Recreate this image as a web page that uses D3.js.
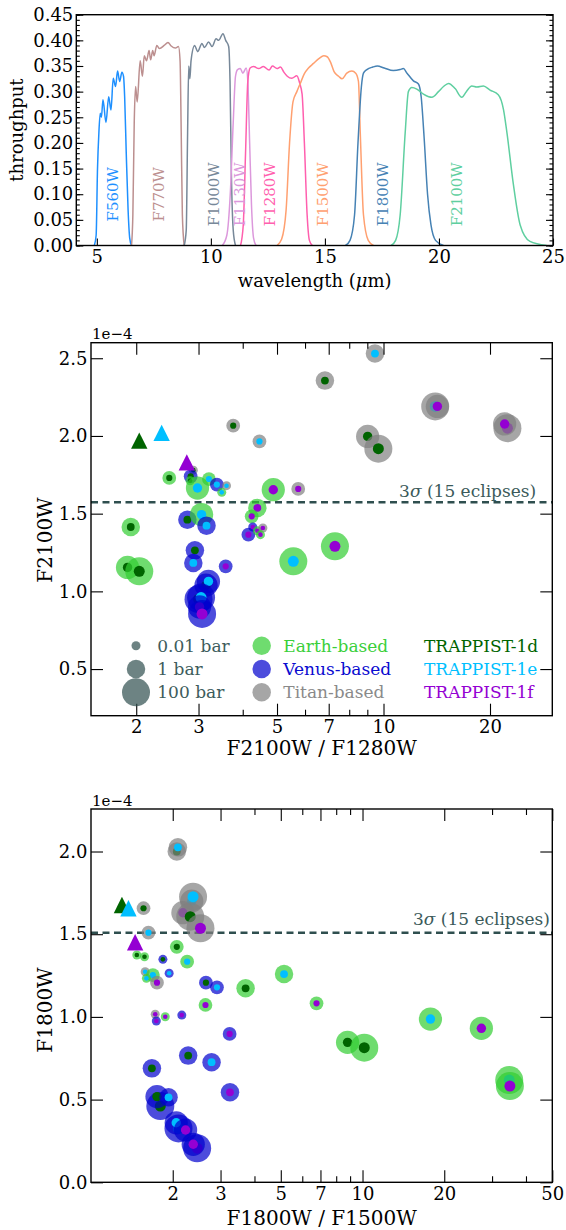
<!DOCTYPE html>
<html><head><meta charset="utf-8">
<script src="https://cdn.jsdelivr.net/npm/d3@7/dist/d3.min.js"></script>
<style>
html,body{margin:0;padding:0;background:#fff;}
svg{display:block;}
</style></head>
<body>
<svg id="chart" width="566" height="1230"></svg>
<script>
// ================= DATA =================
// --- Panel 1: MIRI filter throughputs [wavelength (um), throughput] ---
const filterNames = ["F560W","F770W","F1000W","F1130W","F1280W","F1500W","F1800W","F2100W"];
const f560w = [[4.89,0],[4.97,0.02],[5.03,0.15],[5.09,0.22],[5.15,0.258],[5.2,0.25],[5.27,0.284],[5.4,0.24],[5.52,0.29],[5.62,0.264],[5.72,0.326],[5.82,0.31],[5.91,0.34],[6.0,0.32],[6.1,0.338],[6.17,0.33],[6.22,0.29],[6.29,0.18],[6.37,0.07],[6.44,0.015],[6.52,0]];
const f770w = [[6.52,0],[6.58,0.06],[6.64,0.24],[6.7,0.31],[6.77,0.28],[6.9,0.36],[7.0,0.33],[7.08,0.37],[7.18,0.36],[7.29,0.38],[7.36,0.362],[7.45,0.38],[7.51,0.37],[7.63,0.39],[7.75,0.384],[7.95,0.39],[8.12,0.396],[8.26,0.389],[8.45,0.385],[8.58,0.388],[8.65,0.36],[8.7,0.22],[8.75,0.06],[8.83,0]];
const f1000w = [[8.83,0],[8.92,0.03],[8.98,0.22],[9.03,0.35],[9.08,0.325],[9.13,0.36],[9.29,0.39],[9.42,0.378],[9.61,0.394],[9.72,0.386],[9.9,0.397],[10.05,0.388],[10.23,0.403],[10.34,0.4],[10.53,0.413],[10.65,0.4],[10.78,0.388],[10.84,0.32],[10.9,0.14],[10.98,0.03],[11.08,0]];
const f1130w = [[10.5,0],[10.7,0.02],[10.85,0.1],[10.98,0.24],[11.08,0.33],[11.17,0.343],[11.29,0.345],[11.4,0.336],[11.55,0.346],[11.62,0.32],[11.7,0.2],[11.78,0.08],[11.87,0.015],[11.98,0]];
const f1280w = [[11.3,0],[11.42,0.04],[11.52,0.18],[11.62,0.32],[11.72,0.346],[11.87,0.349],[12.1,0.345],[12.3,0.349],[12.55,0.342],[12.7,0.35],[12.9,0.345],[13.05,0.348],[13.2,0.338],[13.35,0.33],[13.55,0.326],[13.77,0.331],[13.89,0.317],[14.0,0.295],[14.1,0.2],[14.22,0.06],[14.32,0.01],[14.45,0]];
const f1500w = [[12.9,0],[13.1,0.012],[13.3,0.07],[13.45,0.2],[13.6,0.28],[13.77,0.3],[13.92,0.316],[14.1,0.335],[14.28,0.346],[14.5,0.355],[14.75,0.365],[14.95,0.37],[15.1,0.368],[15.25,0.357],[15.4,0.339],[15.6,0.33],[15.75,0.325],[15.96,0.336],[16.18,0.34],[16.35,0.336],[16.47,0.32],[16.55,0.22],[16.69,0.06],[16.9,0.01],[17.13,0]];
const f1800w = [[15.9,0],[16.1,0.01],[16.3,0.06],[16.45,0.2],[16.6,0.31],[16.69,0.336],[16.84,0.343],[17.1,0.348],[17.3,0.35],[17.6,0.346],[18.0,0.341],[18.3,0.343],[18.44,0.345],[18.6,0.336],[18.88,0.321],[19.1,0.315],[19.22,0.29],[19.35,0.21],[19.5,0.1],[19.65,0.04],[19.85,0.01],[20.2,0]];
const f2100w = [[17.9,0],[18.1,0.01],[18.3,0.06],[18.52,0.22],[18.66,0.3],[18.81,0.308],[19.03,0.305],[19.32,0.295],[19.55,0.29],[19.69,0.289],[19.98,0.3],[20.2,0.31],[20.42,0.316],[20.71,0.306],[21.0,0.289],[21.2,0.3],[21.44,0.311],[21.66,0.309],[21.95,0.311],[22.24,0.303],[22.6,0.294],[22.83,0.265],[22.98,0.22],[23.26,0.12],[23.56,0.04],[23.99,0.008],[24.72,0]];
const filterCurves = [f560w,f770w,f1000w,f1130w,f1280w,f1500w,f1800w,f2100w];
const wavelengthTicks = [5,10,15,20,25];
const throughputTicks = [0,0.05,0.10,0.15,0.20,0.25,0.30,0.35,0.40,0.45];
const throughputMinor = d3.range(0,46).map(i=>i/100);

// --- Legend categories ---
const atmKeys = ["E","V","T"];
const atmLabels = ["Earth-based","Venus-based","Titan-based"];
const planetKeys = ["d","e","f"];
const planetLabels = ["TRAPPIST-1d","TRAPPIST-1e","TRAPPIST-1f"];
const pressureLegend = [0.01,1,100];
const pressureLegendLabels = ["0.01 bar","1 bar","100 bar"];

// --- Panel 2: F2100W/F1280W vs F2100W (flux in units of 1e-4) ---
const midAtm      = ["T","T","E","T","V","E","E","E","V","T","E","E","T","T","T","T","T","T","T","T","T","E","E","V","V","E","T","E","V","E","V","E","E","E","V","V","V","V","V","V","V","V","V","E","E"];
const midPlanet   = ["d","e","d","d","d","d","e","e","e","e","e","f","f","e","d","e","f","f","f","d","d","f","f","f","f","f","f","f","d","e","e","d","d","d","d","e","f","d","e","d","e","f","f","e","f"];
const midPressure = [0.1,0.1,0.1,0.01,0.1,0.01,10,0.1,0.1,0.01,0.01,10,0.1,1,1,100,10,100,10,10,100,1,0.1,0.1,0.01,0.01,0.01,0.01,1,10,1,1,10,100,1,1,0.1,10,10,100,100,10,100,100,100];
const midRatio    = [3.76,4.46,2.48,2.90,2.85,2.84,2.98,3.21,3.38,3.60,3.49,4.88,5.74,9.46,6.83,14.0,14.2,22.4,22.0,9.02,9.67,4.40,4.24,4.15,4.27,4.40,4.56,4.49,2.79,3.06,3.16,1.93,1.89,2.04,2.93,2.90,3.58,3.15,3.20,3.00,3.05,3.02,3.07,5.56,7.29];
const midFlux     = [2.066,1.965,1.73,1.78,1.74,1.712,1.665,1.723,1.687,1.68,1.637,1.654,1.659,2.53,2.356,2.19,2.19,2.05,2.077,1.997,1.918,1.537,1.483,1.365,1.414,1.39,1.408,1.365,1.461,1.494,1.423,1.414,1.154,1.129,1.264,1.183,1.161,1.04,1.064,0.95,0.96,0.90,0.855,1.193,1.29];
const midBarePlanet = ["d","e","f"];
const midBareRatio  = [2.04,2.36,2.78];
const midBareFlux   = [1.97,2.02,1.83];
const midThreshold  = 1.573;
const midXTicks = [2,3,5,7,10,20];
const midXMinor = [4,6,8,9];
const midYTicks = [0.5,1.0,1.5,2.0,2.5];

// --- Panel 3: F1800W/F1500W vs F1800W (flux in units of 1e-4) ---
const botAtm      = ["T","T","T","T","T","T","T","T","T","E","E","E","E","V","V","T","E","E","T","V","V","E","E","T","V","E","V","E","V","V","V","V","V","V","V","V","V","V","V","V","V","E","E","E","E","E","E","E"];
const botPlanet   = ["d","e","d","e","e","e","f","d","f","d","e","d","d","d","e","e","e","e","f","d","e","d","e","f","f","f","f","f","f","d","e","d","f","d","d","e","e","e","f","f","f","f","d","d","e","f","e","f"];
const botPressure = [0.1,0.1,1,1,10,100,10,100,100,0.1,0.1,0.01,0.01,0.01,0.01,0.01,0.1,0.01,0.1,0.1,0.1,1,1,0.01,0.01,0.01,0.01,0.1,0.1,1,1,1,1,100,10,1,100,10,100,10,10,0.1,10,100,10,10,100,100];
const botRatio    = [1.561,1.628,2.07,2.09,2.35,2.376,2.18,2.32,2.53,2.07,2.26,1.574,1.475,1.84,1.94,1.583,1.69,1.60,1.75,2.65,2.91,3.71,5.14,1.724,1.74,1.877,2.16,2.64,3.24,2.28,2.78,1.676,3.25,1.80,1.75,1.93,2.10,2.06,2.46,2.23,2.38,6.77,8.81,10.15,17.79,27.4,34.7,34.9];
const botFlux     = [1.657,1.509,2.0,2.025,1.70,1.727,1.63,1.606,1.536,1.424,1.334,1.364,1.374,1.348,1.264,1.273,1.253,1.233,1.207,1.207,1.179,1.173,1.259,1.016,0.975,1.001,1.011,1.072,0.897,0.766,0.726,0.689,0.544,0.461,0.518,0.514,0.326,0.36,0.206,0.316,0.23,1.082,0.846,0.814,0.987,0.931,0.618,0.582];
const botBarePlanet = ["d","e","f"];
const botBareRatio  = [1.30,1.374,1.454];
const botBareFlux   = [1.677,1.657,1.451];
const botThreshold  = 1.509;
const botXTicks = [2,3,5,7,10,20,50];
const botXMinor = [4,6,8,9,30,40];
const botYTicks = [0.0,0.5,1.0,1.5,2.0];

// ================= STYLE =================
const SERIF = "DejaVu Serif";
const TICK_FS = 18;
const filterColors = ["#1e90ff","#bc8f8f","#778899","#dc98dc","#ff5fae","#ffa070","#4682b4","#5fcfa0"];
const atmColor = {E:"#32cd32",V:"#0000cd",T:"#808080"};
const atmTextColor = {E:"#3acf3a",V:"#0a0ad0",T:"#8a8a8a"};
const planetColor = {d:"#006400",e:"#00bfff",f:"#9400d3"};
const slate = "#2f4f4f";

const svg = d3.select("#chart");

function styleAxis(g, size){
  g.select(".domain").remove();
  g.attr("font-family", SERIF).attr("font-size", size);
  g.selectAll(".tick line").attr("stroke","#000").attr("stroke-width",1.1);
  g.selectAll(".tick text").attr("fill","#000");
}
function frame(g,L){
  g.append("rect").attr("x",L.left).attr("y",L.top)
   .attr("width",L.right-L.left).attr("height",L.bottom-L.top)
   .attr("fill","none").attr("stroke","#000").attr("stroke-width",1.4);
}

// ================= PANEL 1 =================
(function(){
  const L = {left:76.3,right:553,top:14.7,bottom:245.5};
  const x = d3.scaleLinear().domain([4.1,25]).range([L.left,L.right]);
  const y = d3.scaleLinear().domain([0,0.45]).range([L.bottom,L.top]);
  const g = svg.append("g");
  g.append("clipPath").attr("id","clip1").append("rect")
    .attr("x",L.left).attr("y",L.top).attr("width",L.right-L.left).attr("height",L.bottom-L.top);
  const line = d3.line().x(d=>x(d[0])).y(d=>y(d[1])).curve(d3.curveMonotoneX);
  const cg = g.append("g").attr("clip-path","url(#clip1)");
  filterCurves.forEach((c,i)=>{
    cg.append("path").attr("d",line(c)).attr("fill","none")
      .attr("stroke",filterColors[i]).attr("stroke-width",1.5).attr("stroke-linejoin","round");
  });
  const labelWl = [5.71,7.69,10.1,11.27,12.58,14.92,17.55,20.76];
  filterNames.forEach((n,i)=>{
    g.append("text").text(n)
      .attr("transform",`translate(${x(labelWl[i])},${y(0.1)}) rotate(-90)`)
      .attr("text-anchor","middle").attr("dy","0.36em")
      .attr("font-family",SERIF).attr("font-size",15).attr("fill",filterColors[i]);
  });
  g.append("g").attr("transform",`translate(0,${L.bottom})`)
    .call(d3.axisBottom(x).tickValues(wavelengthTicks).tickFormat(d3.format("d")).tickSizeInner(-7).tickSizeOuter(0).tickPadding(5))
    .call(a=>styleAxis(a,TICK_FS));
  g.append("g").attr("transform",`translate(${L.left},0)`)
    .call(d3.axisLeft(y).tickValues(throughputMinor).tickFormat("").tickSizeInner(-3.5).tickSizeOuter(0))
    .call(a=>styleAxis(a,TICK_FS));
  g.append("g").attr("transform",`translate(${L.left},0)`)
    .call(d3.axisLeft(y).tickValues(throughputTicks).tickFormat(d3.format(".2f")).tickSizeInner(-7).tickSizeOuter(0).tickPadding(3))
    .call(a=>styleAxis(a,TICK_FS));
  g.append("g").attr("transform",`translate(${L.right},0)`)
    .call(d3.axisRight(y).tickValues(throughputMinor).tickFormat("").tickSizeInner(-3.5).tickSizeOuter(0))
    .call(a=>styleAxis(a,TICK_FS));
  g.append("g").attr("transform",`translate(${L.right},0)`)
    .call(d3.axisRight(y).tickValues(throughputTicks).tickFormat("").tickSizeInner(-7).tickSizeOuter(0))
    .call(a=>styleAxis(a,TICK_FS));
  frame(g,L);
  g.append("text").text("throughput")
    .attr("transform",`translate(23,${(L.top+L.bottom)/2}) rotate(-90)`)
    .attr("text-anchor","middle").attr("font-family",SERIF).attr("font-size",18).attr("fill","#000");
  const xl = g.append("text").attr("x",(L.left+L.right)/2).attr("y",287)
    .attr("text-anchor","middle").attr("font-family",SERIF).attr("font-size",18).attr("fill","#000");
  xl.append("tspan").text("wavelength (");
  xl.append("tspan").text("μ").attr("font-style","italic");
  xl.append("tspan").text("m)");
})();

// ================= SCATTER PANELS =================
const rOuter = d3.scaleLog().domain([0.01,100]).range([4.5,14]);
const rInner = d3.scaleLog().domain([0.01,100]).range([2.3,5.5]);

function scatterPanel(cfg){
  const L = cfg.L;
  const x = d3.scaleLog().domain(cfg.xDomain).range([L.left,L.right]);
  const y = d3.scaleLinear().domain(cfg.yDomain).range([L.bottom,L.top]);
  const g = svg.append("g");
  g.append("clipPath").attr("id",cfg.id).append("rect")
    .attr("x",L.left).attr("y",L.top).attr("width",L.right-L.left).attr("height",L.bottom-L.top);
  const pg = g.append("g").attr("clip-path",`url(#${cfg.id})`);
  pg.append("line").attr("x1",L.left).attr("x2",L.right)
    .attr("y1",y(cfg.threshold)).attr("y2",y(cfg.threshold))
    .attr("stroke",slate).attr("stroke-width",2.4).attr("stroke-dasharray","7,4.5");
  const tl = g.append("text").attr("x",x(cfg.thrLabelX)).attr("y",y(cfg.threshold)-cfg.thrLabelDy)
    .attr("text-anchor","end").attr("font-family",SERIF).attr("font-size",17).attr("fill","#3b5a5a");
  tl.append("tspan").text("3");
  tl.append("tspan").text("σ").attr("font-style","italic");
  tl.append("tspan").text(" (15 eclipses)");
  const pts = cfg.ratio.map((r,i)=>({r, f:cfg.flux[i], a:cfg.atm[i], p:cfg.planet[i], pr:cfg.pressure[i]}));
  pts.forEach(d=>{
    pg.append("circle").attr("cx",x(d.r)).attr("cy",y(d.f)).attr("r",rOuter(d.pr))
      .attr("fill",atmColor[d.a]).attr("fill-opacity",0.7);
    pg.append("circle").attr("cx",x(d.r)).attr("cy",y(d.f)).attr("r",rInner(d.pr))
      .attr("fill",planetColor[d.p]);
  });
  const tri = d3.path(); const h=8.2;
  tri.moveTo(0,-h); tri.lineTo(h,h); tri.lineTo(-h,h); tri.closePath();
  cfg.bareRatio.forEach((r,i)=>{
    pg.append("path").attr("d",tri.toString())
      .attr("transform",`translate(${x(r)},${y(cfg.bareFlux[i])})`)
      .attr("fill",planetColor[cfg.barePlanet[i]]);
  });
  g.append("g").attr("transform",`translate(0,${L.bottom})`)
    .call(d3.axisBottom(x).tickValues(cfg.xMinor).tickFormat("").tickSizeInner(-6).tickSizeOuter(0))
    .call(a=>styleAxis(a,TICK_FS));
  g.append("g").attr("transform",`translate(0,${L.bottom})`)
    .call(d3.axisBottom(x).tickValues(cfg.xTicks).tickFormat(d3.format("d")).tickSizeInner(-12).tickSizeOuter(0).tickPadding(5))
    .call(a=>styleAxis(a,TICK_FS));
  g.append("g").attr("transform",`translate(0,${L.top})`)
    .call(d3.axisTop(x).tickValues(cfg.xMinor).tickFormat("").tickSizeInner(-6).tickSizeOuter(0))
    .call(a=>styleAxis(a,TICK_FS));
  g.append("g").attr("transform",`translate(0,${L.top})`)
    .call(d3.axisTop(x).tickValues(cfg.xTicks).tickFormat("").tickSizeInner(-12).tickSizeOuter(0))
    .call(a=>styleAxis(a,TICK_FS));
  g.append("g").attr("transform",`translate(${L.left},0)`)
    .call(d3.axisLeft(y).tickValues(cfg.yTicks).tickFormat(d3.format(".1f")).tickSizeInner(-12).tickSizeOuter(0).tickPadding(3.5))
    .call(a=>styleAxis(a,TICK_FS));
  g.append("g").attr("transform",`translate(${L.right},0)`)
    .call(d3.axisRight(y).tickValues(cfg.yTicks).tickFormat("").tickSizeInner(-12).tickSizeOuter(0))
    .call(a=>styleAxis(a,TICK_FS));
  frame(g,L);
  g.append("text").text("1e\u22124").attr("x",L.left+1).attr("y",L.top-3.5)
    .attr("font-family",SERIF).attr("font-size",15).attr("fill","#000");
  g.append("text").text(cfg.xLabel).attr("x",(L.left+L.right)/2).attr("y",L.bottom+cfg.xLabelDy)
    .attr("text-anchor","middle").attr("font-family",SERIF).attr("font-size",20).attr("fill","#000");
  g.append("text").text(cfg.yLabel)
    .attr("transform",`translate(52,${cfg.yLabelY}) rotate(-90)`)
    .attr("text-anchor","middle").attr("font-family",SERIF).attr("font-size",20).attr("fill","#000");
  return g;
}

const midG = scatterPanel({
  id:"clip2", L:{left:91,right:552.3,top:342.7,bottom:715.7},
  xDomain:[1.49,30], yDomain:[0.2,2.6],
  ratio:midRatio, flux:midFlux, atm:midAtm, planet:midPlanet, pressure:midPressure,
  bareRatio:midBareRatio, bareFlux:midBareFlux, barePlanet:midBarePlanet,
  threshold:midThreshold, thrLabelX:27.0, thrLabelDy:5.5,
  xTicks:midXTicks, xMinor:midXMinor, yTicks:midYTicks,
  xLabel:"F2100W / F1280W", yLabel:"F2100W", xLabelDy:39, yLabelY:540
});

scatterPanel({
  id:"clip3", L:{left:91,right:552.3,top:809,bottom:1182.3},
  xDomain:[1,50], yDomain:[0,2.257],
  ratio:botRatio, flux:botFlux, atm:botAtm, planet:botPlanet, pressure:botPressure,
  bareRatio:botBareRatio, bareFlux:botBareFlux, barePlanet:botBarePlanet,
  threshold:botThreshold, thrLabelX:49, thrLabelDy:7.5,
  xTicks:botXTicks, xMinor:botXMinor, yTicks:botYTicks,
  xLabel:"F1800W / F1500W", yLabel:"F1800W", xLabelDy:42.5, yLabelY:1010
});

// ================= LEGEND (middle panel) =================
(function(){
  const rowY = [645.7,669,692.3];
  const col1X = 136, col1T = 157.3, col2X = 261.7, col2T = 283.3, col3T = 424;
  const lg = midG.append("g").attr("font-family",SERIF).attr("font-size",17);
  pressureLegend.forEach((p,i)=>{
    lg.append("circle").attr("cx",col1X).attr("cy",rowY[i]).attr("r",rOuter(p))
      .attr("fill",slate).attr("fill-opacity",0.7);
    lg.append("text").text(pressureLegendLabels[i]).attr("x",col1T).attr("y",rowY[i]+6)
      .attr("fill","#3d5c5c");
  });
  atmKeys.forEach((k,i)=>{
    lg.append("circle").attr("cx",col2X).attr("cy",rowY[i]).attr("r",rOuter(1))
      .attr("fill",atmColor[k]).attr("fill-opacity",0.7);
    lg.append("text").text(atmLabels[i]).attr("x",col2T).attr("y",rowY[i]+6)
      .attr("fill",atmTextColor[k]);
  });
  planetKeys.forEach((k,i)=>{
    lg.append("text").text(planetLabels[i]).attr("x",col3T).attr("y",rowY[i]+6)
      .attr("fill",planetColor[k]);
  });
})();
</script>
</body></html>
